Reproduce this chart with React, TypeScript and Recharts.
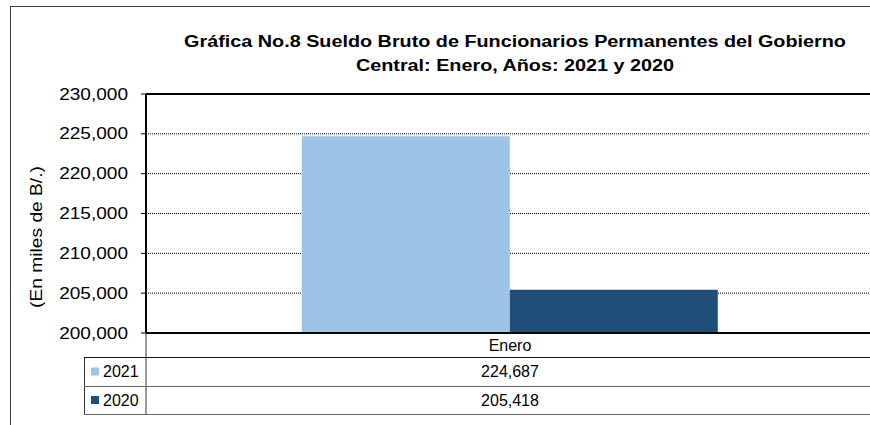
import { BarChart, Bar, XAxis, YAxis, CartesianGrid, ReferenceLine } from "recharts";

const categories = ["Enero"];
const values2021 = [224687];
const values2020 = [205418];
const seriesNames = ["2021", "2020"];
const seriesColors = ["#9DC3E6", "#1F4E79"];
const yTicks = [200000, 205000, 210000, 215000, 220000, 225000, 230000];

const data = categories.map((month, i) => ({
  month,
  v2021: values2021[i],
  v2020: values2020[i],
}));

const FONT = "'Liberation Sans', Arial, sans-serif";
const W = 870;
const H = 425;
const CHART_W = 874; // plot runs slightly past the right edge, as in the original
const PLOT_LEFT = 146;
const PLOT_TOP = 94;
const PLOT_BOTTOM = 333;
const ROW1 = 357;
const ROW2 = 386;
const ROW3 = 414;
const TABLE_LEFT = 84;

const fmt = (v: number) => v.toLocaleString("en-US");

function YTick({ x, y, payload }: any) {
  return (
    <g transform={`translate(${x},${y})`}>
      <text
        transform="scale(1.19,1)"
        x={0}
        y={0}
        dy="0.35em"
        textAnchor="end"
        fontSize={16}
        fontFamily={FONT}
        fill="#000"
      >
        {fmt(payload.value)}
      </text>
    </g>
  );
}

function TableTick({ x, payload, index }: any) {
  const i = index ?? 0;
  const rows = [values2021[i], values2020[i]];
  const rowMid = [(ROW1 + ROW2) / 2, (ROW2 + ROW3) / 2];
  return (
    <g fontFamily={FONT} fontSize={16} fill="#000">
      <text x={x} y={(PLOT_BOTTOM + ROW1) / 2} dy="0.35em" textAnchor="middle">
        {payload.value}
      </text>
      {rows.map((v, r) => (
        <g key={r}>
          <text x={x} y={rowMid[r]} dy="0.35em" textAnchor="middle">
            {fmt(v)}
          </text>
          <rect x={91} y={rowMid[r] - 4} width={8} height={8} fill={seriesColors[r]} />
          <text x={103} y={rowMid[r]} dy="0.35em" textAnchor="start">
            {seriesNames[r]}
          </text>
        </g>
      ))}
    </g>
  );
}

export default function App() {
  return (
    <div
      style={{
        position: "absolute",
        left: 0,
        top: 0,
        width: W,
        height: H,
        overflow: "hidden",
        background: "#fff",
      }}
    >
      <BarChart
        width={CHART_W}
        height={H}
        data={data}
        margin={{ top: PLOT_TOP, right: 0, left: 0, bottom: H - ROW3 }}
        barCategoryGap="21.4%"
        barGap={0}
      >
        <CartesianGrid
          vertical={false}
          stroke="#000"
          strokeDasharray="1 1"
          strokeWidth={1}
        />
        <XAxis
          dataKey="month"
          axisLine={{ stroke: "#000", strokeWidth: 2 }}
          tickLine={false}
          height={ROW3 - PLOT_BOTTOM}
          tick={<TableTick />}
          interval={0}
        />
        <YAxis
          width={PLOT_LEFT}
          domain={[200000, 230000]}
          ticks={yTicks}
          allowDataOverflow
          axisLine={{ stroke: "#000", strokeWidth: 2 }}
          tickLine={{ stroke: "#000" }}
          tickSize={5}
          tickMargin={13}
          tick={<YTick />}
        />
        <ReferenceLine y={230000} stroke="#000" strokeWidth={2} />
        <Bar dataKey="v2021" name="2021" fill={seriesColors[0]} isAnimationActive={false} />
        <Bar dataKey="v2020" name="2020" fill={seriesColors[1]} isAnimationActive={false} />
      </BarChart>
      <svg
        width={W}
        height={H}
        style={{ position: "absolute", left: 0, top: 0, pointerEvents: "none" }}
      >
        <line x1={10.5} y1={6} x2={10.5} y2={H} stroke="#404040" />
        <line x1={10} y1={6.5} x2={W} y2={6.5} stroke="#404040" />
        <g fontFamily={FONT} fontWeight="bold" fontSize={17} fill="#000">
          <text transform="translate(515,47) scale(1.165,1)" textAnchor="middle">
            Gráfica No.8 Sueldo Bruto de Funcionarios Permanentes del Gobierno
          </text>
          <text transform="translate(515,71) scale(1.165,1)" textAnchor="middle">
            Central: Enero, Años: 2021 y 2020
          </text>
        </g>
        <text
          transform="translate(36,237) rotate(-90) scale(1.2,1)"
          textAnchor="middle"
          dy="0.35em"
          fontFamily={FONT}
          fontSize={16}
          fill="#000"
        >
          (En miles de B/.)
        </text>
        <line x1={PLOT_LEFT} y1={PLOT_BOTTOM} x2={PLOT_LEFT} y2={ROW3} stroke="#333" />
        <line x1={TABLE_LEFT + 0.5} y1={ROW1} x2={TABLE_LEFT + 0.5} y2={ROW3} stroke="#333" />
        <line x1={TABLE_LEFT} y1={ROW1 + 0.5} x2={W} y2={ROW1 + 0.5} stroke="#111" />
        <line x1={TABLE_LEFT} y1={ROW2 + 0.5} x2={W} y2={ROW2 + 0.5} stroke="#666" />
        <line x1={TABLE_LEFT} y1={ROW3 + 0.5} x2={W} y2={ROW3 + 0.5} stroke="#666" />
      </svg>
    </div>
  );
}
